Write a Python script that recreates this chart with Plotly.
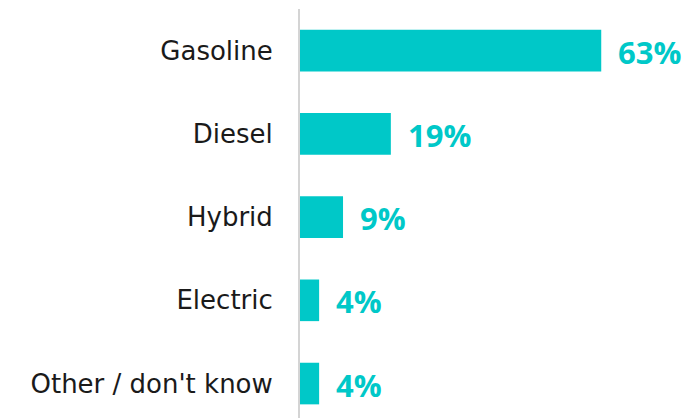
import plotly.graph_objects as go

categories = ["Gasoline", "Diesel", "Hybrid", "Electric", "Other / don't know"]
values = [63, 19, 9, 4, 4]
labels = ["63%", "19%", "9%", "4%", "4%"]

teal = "#00C8C8"

fig = go.Figure(go.Bar(
    x=values, y=categories, orientation="h",
    marker=dict(color=teal, line=dict(width=0)),
    width=0.5, hoverinfo="skip",
))

for c, v, t in zip(categories, values, labels):
    fig.add_annotation(x=v, y=c, text=t, showarrow=False, xanchor="left",
                       xshift=15, yshift=-1,
                       font=dict(family="Open Sans", size=31, color=teal, weight=700))

fig.update_layout(
    width=697, height=418,
    margin=dict(l=292, r=0, t=1, b=0, autoexpand=False),
    plot_bgcolor="white", paper_bgcolor="white",
    showlegend=False,
    xaxis=dict(range=[0, 84.7], visible=False, fixedrange=True),
    yaxis=dict(type="category", range=[4.51, -0.5], showline=True, linecolor="#d4d4d4",
               linewidth=2, ticks="", ticklabelstandoff=20, showgrid=False,
               tickfont=dict(family="DejaVu Sans", size=26, color="#1a1a1a")),
)

fig.write_html("out.html")
